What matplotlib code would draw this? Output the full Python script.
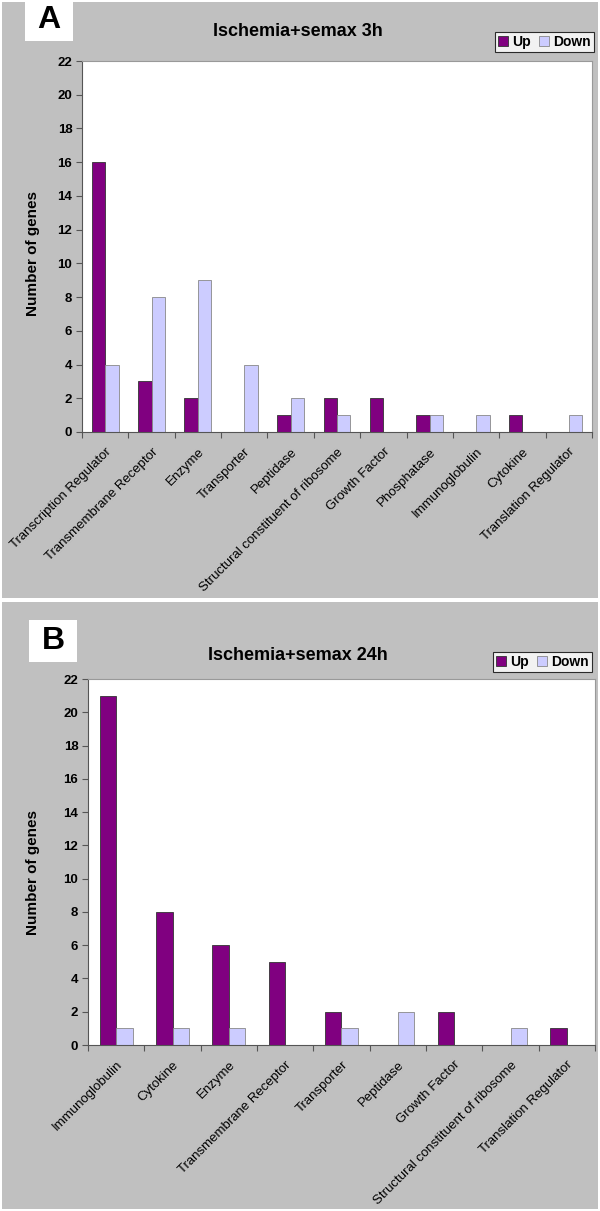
import matplotlib.pyplot as plt
from matplotlib.patches import Rectangle
import numpy as np

plt.rcParams['font.family'] = ['Liberation Sans', 'DejaVu Sans']

# panel A: ischemia + semax 3h
cats_a = ['Transcription Regulator', 'Transmembrane Receptor', 'Enzyme', 'Transporter',
          'Peptidase', 'Structural constituent of ribosome', 'Growth Factor',
          'Phosphatase', 'Immunoglobulin', 'Cytokine', 'Translation Regulator']
up_a = [16, 3, 2, 0, 1, 2, 2, 1, 0, 1, 0]
down_a = [4, 8, 9, 4, 2, 1, 0, 1, 1, 0, 1]

# panel B: ischemia + semax 24h
cats_b = ['Immunoglobulin', 'Cytokine', 'Enzyme', 'Transmembrane Receptor', 'Transporter',
          'Peptidase', 'Growth Factor', 'Structural constituent of ribosome',
          'Translation Regulator']
up_b = [21, 8, 6, 5, 2, 0, 2, 0, 1]
down_b = [1, 1, 1, 0, 1, 2, 0, 1, 0]

UP = '#800080'
DOWN = '#CCCCFF'
GRAY = '#C0C0C0'

W, H = 600, 1211
fig = plt.figure(figsize=(W / 100, H / 100), dpi=100, facecolor='white')


def px(x0, y0, x1, y1):
    # pixel box (top-left origin) -> figure fraction rect
    return [x0 / W, 1 - y1 / H, (x1 - x0) / W, (y1 - y0) / H]


def panel(box, axbox, cats, up, down, title, letter, letterbox, title_y, legbox, ylab_y):
    r = px(*box)
    fig.patches.append(Rectangle((r[0], r[1]), r[2], r[3], transform=fig.transFigure,
                                 facecolor=GRAY, edgecolor='none', zorder=-10))
    lb = px(*letterbox)
    fig.patches.append(Rectangle((lb[0], lb[1]), lb[2], lb[3], transform=fig.transFigure,
                                 facecolor='white', edgecolor='none', zorder=-5))
    fig.text(lb[0] + lb[2] / 2, lb[1] + lb[3] / 2, letter, fontsize=23, fontweight='bold',
             ha='center', va='center')

    ax = fig.add_axes(px(*axbox))
    ax.set_facecolor('white')
    n = len(cats)
    x = np.arange(n)
    bw = 0.29
    ax.bar(x - bw / 2, up, bw, color=UP, edgecolor='#333333', linewidth=0.6, label='Up')
    ax.bar(x + bw / 2, down, bw, color=DOWN, edgecolor='#888888', linewidth=0.6, label='Down')
    ax.set_xlim(-0.5, n - 0.5)
    ax.set_ylim(0, 22)
    ax.set_yticks(range(0, 23, 2))
    ax.set_yticklabels([str(v) for v in range(0, 23, 2)], fontsize=9.5, fontweight='bold')
    ax.set_xticks(np.arange(n + 1) - 0.5)
    ax.set_xticklabels([])
    ax.set_xticks(x, minor=True)
    ax.set_xticklabels(cats, minor=True, rotation=45, ha='right', rotation_mode='anchor',
                       fontsize=9.5)
    ax.tick_params(axis='x', which='minor', length=0, pad=10)
    ax.tick_params(axis='x', which='major', length=4, direction='out', color='#555555')
    ax.tick_params(axis='y', length=4, direction='out', color='#555555', pad=3)
    for s in ['top', 'right']:
        ax.spines[s].set_color('#999999')
        ax.spines[s].set_linewidth(0.8)
    for s in ['left', 'bottom']:
        ax.spines[s].set_color('#555555')
    ax.set_ylabel('Number of genes', fontsize=11, fontweight='bold')
    ax.yaxis.set_label_coords((40 - axbox[0]) / (axbox[2] - axbox[0]), ylab_y)

    fig.text(0.496, 1 - title_y / H, title, fontsize=13, fontweight='bold',
             ha='center', va='center')
    lg = px(*legbox)
    leg = fig.legend(loc='center', bbox_to_anchor=(lg[0] + lg[2] / 2, lg[1] + lg[3] / 2),
                     ncol=2, frameon=True, fancybox=False,
                     handlelength=0.7, handleheight=0.7, handletextpad=0.3,
                     columnspacing=0.6, borderpad=0.25, borderaxespad=0,
                     handles=ax.get_legend_handles_labels()[0],
                     labels=['Up', 'Down'], prop={'weight': 'bold', 'size': 10})
    leg.get_frame().set_edgecolor('black')
    leg.get_frame().set_linewidth(0.8)
    return ax


panel((2, 2, 598, 598), (82, 61, 592, 432), cats_a, up_a, down_a,
      'Ischemia+semax 3h', 'A', (25, 0, 73, 41), 31.5, (496, 32, 593, 52), 0.48)
panel((2, 602, 598, 1209), (88, 679, 595, 1045), cats_b, up_b, down_b,
      'Ischemia+semax 24h', 'B', (29, 620, 77, 662), 655, (493, 652, 592, 672), 0.47)

fig.savefig('out.png', dpi=100, facecolor='white')
